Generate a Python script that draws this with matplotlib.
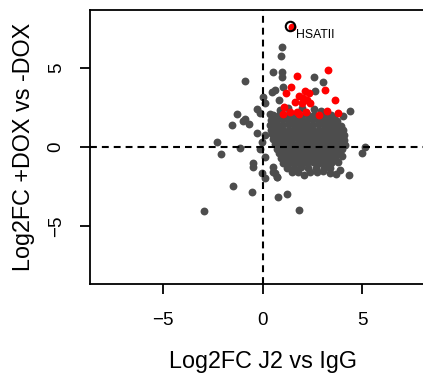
import matplotlib
matplotlib.use("Agg")
import matplotlib.pyplot as plt

plt.rcParams["font.family"] = ["Liberation Sans", "DejaVu Sans"]

GRAY = "#4d4d4d"

# scattered grey points outside the main cloud
gray_out_x = [0.96, 0.93, -0.88, 0.54, 0.96, 0.96, 2.60, 3.02, 1.01, 0.63, 0.46,
              2.65, 0.85, 0.01, 0.13, -1.30, -0.29, -0.88, -0.13, 0.38, -1.55,
              -0.96, -0.66, -0.29, -2.30, -2.09, -1.13, -0.13, -0.49, -0.46,
              -0.04, 0.54, 0.71, 0.13, -0.04, 0.13, -1.50, -0.54, -2.92, 0.13,
              0.76, 1.25, 1.85, 5.15, 4.98, 4.36, 4.40, 4.03, 0.55, 0.63, 0.75]
gray_out_y = [6.31, 5.76, 4.20, 4.73, 4.77, 4.45, 4.45, 4.13, 3.82, 3.61, 3.50,
              3.56, 2.97, 3.15, 2.77, 2.09, 2.38, 1.75, 2.13, 2.09, 1.39,
              1.66, 1.46, 0.87, 0.30, -0.44, -0.08, -0.15, -1.03, -1.28,
              -1.66, -1.56, -1.88, -0.61, 0.34, 0.76, -2.47, -2.83, -4.03, -1.98,
              -3.14, -2.97, -3.99, 0.02, -0.40, -1.77, 2.30, 1.96, -1.25, -1.66, -1.88]

# dense grey cloud, one row of the picture per line
cloud = [
    (0.90, 2.35), (1.30, 2.45), (2.00, 2.45), (2.60, 2.40), (2.95, 2.25), (3.45, 2.00),
    (0.55, 2.00), (0.85, 2.00), (1.20, 1.95), (1.55, 2.00), (1.95, 1.95), (2.30, 2.00),
    (2.60, 2.05), (3.00, 2.00), (3.30, 1.95), (3.60, 1.85),
    (0.45, 1.70), (0.75, 1.70), (1.05, 1.75), (1.35, 1.70), (1.65, 1.70), (1.95, 1.70),
    (2.25, 1.70), (2.55, 1.75), (2.85, 1.70), (3.15, 1.70), (3.45, 1.65), (3.75, 1.65),
    (0.40, 1.40), (0.70, 1.40), (1.00, 1.40), (1.30, 1.45), (1.60, 1.40), (1.90, 1.40),
    (2.20, 1.40), (2.50, 1.40), (2.80, 1.45), (3.10, 1.40), (3.40, 1.40), (3.70, 1.40),
    (3.95, 1.30),
    (0.45, 1.10), (0.75, 1.10), (1.05, 1.10), (1.35, 1.10), (1.65, 1.15), (1.95, 1.10),
    (2.25, 1.10), (2.55, 1.10), (2.85, 1.10), (3.15, 1.10), (3.45, 1.10), (3.75, 1.10),
    (4.05, 1.05),
    (0.50, 0.80), (0.80, 0.80), (1.10, 0.80), (1.40, 0.80), (1.70, 0.85), (2.00, 0.80),
    (2.30, 0.80), (2.60, 0.80), (2.90, 0.80), (3.20, 0.80), (3.50, 0.80), (3.80, 0.80),
    (4.10, 0.75),
    (0.55, 0.50), (0.85, 0.50), (1.15, 0.50), (1.45, 0.50), (1.75, 0.55), (2.05, 0.50),
    (2.35, 0.50), (2.65, 0.50), (2.95, 0.50), (3.25, 0.50), (3.55, 0.50), (3.85, 0.50),
    (4.10, 0.45),
    (0.65, 0.20), (0.95, 0.20), (1.25, 0.20), (1.55, 0.20), (1.85, 0.25), (2.15, 0.20),
    (2.45, 0.20), (2.75, 0.20), (3.05, 0.20), (3.35, 0.20), (3.65, 0.20), (3.95, 0.20),
    (4.15, 0.15),
    (0.75, -0.10), (1.05, -0.10), (1.35, -0.10), (1.65, -0.10), (1.95, -0.05), (2.25, -0.10),
    (2.55, -0.10), (2.85, -0.10), (3.15, -0.10), (3.45, -0.10), (3.75, -0.10), (4.00, -0.15),
    (0.85, -0.40), (1.15, -0.40), (1.45, -0.40), (1.75, -0.40), (2.05, -0.40), (2.35, -0.35),
    (2.65, -0.40), (2.95, -0.40), (3.25, -0.40), (3.55, -0.40), (3.85, -0.40),
    (0.95, -0.70), (1.25, -0.70), (1.55, -0.70), (1.85, -0.70), (2.15, -0.70), (2.45, -0.70),
    (2.75, -0.65), (3.05, -0.70), (3.35, -0.70), (3.65, -0.70),
    (1.05, -1.00), (1.35, -1.00), (1.65, -1.00), (1.95, -1.00), (2.25, -1.00), (2.55, -0.95),
    (2.85, -1.00), (3.15, -1.00), (3.45, -1.00),
    (1.25, -1.30), (1.60, -1.30), (1.95, -1.25), (2.30, -1.30), (2.70, -1.30), (3.10, -1.30),
    (3.40, -1.30),
    (1.50, -1.60), (1.78, -1.57), (2.10, -1.75), (2.40, -1.57), (2.75, -1.60), (3.05, -1.50),
    (3.40, -1.67), (3.68, -1.72), (3.79, -0.93), (3.90, -1.46), (4.00, -0.60),
]
cloud_x = [p[0] for p in cloud]
cloud_y = [p[1] for p in cloud]

# significant repeats, drawn in red
red_x = [3.30, 1.72, 1.42, 1.17, 2.14, 2.35, 3.14, 1.85, 2.25, 2.06, 1.63, 3.64,
         1.08, 1.97, 2.39, 1.38, 1.72, 2.19, 1.02, 3.23, 3.81, 2.85, 1.85, 1.50]
red_y = [4.89, 4.47, 3.82, 3.44, 3.56, 3.44, 3.61, 3.23, 2.97, 3.09, 2.87, 2.97,
         2.55, 2.77, 2.78, 2.23, 2.23, 2.23, 2.09, 2.30, 2.17, 2.03, 2.09, 7.60]

label_name = "HSATII"
label_x, label_y = 1.38, 7.65

fig = plt.figure(figsize=(4.23, 3.74), dpi=100)
ax = fig.add_axes([90 / 423, 90 / 374, 345 / 423, 274 / 374])

ax.scatter(gray_out_x, gray_out_y, s=32, color=GRAY, linewidths=0, zorder=2)
ax.scatter(cloud_x, cloud_y, s=32, color=GRAY, linewidths=0, zorder=2)
ax.scatter(red_x, red_y, s=32, color="red", linewidths=0, zorder=3)
ax.plot([label_x], [label_y], marker="o", ms=6.8, mfc="none", mec="black", mew=1.5,
        ls="none", zorder=4)
ax.text(1.67, 6.9, label_name, fontsize=8.8, ha="left", va="baseline", zorder=5)

ax.axvline(0, color="black", lw=1.5, ls=(0, (3.3, 2.4)), zorder=4)
ax.axhline(0, color="black", lw=1.5, ls=(0, (3.3, 2.4)), zorder=4)

ax.set_xlim(-8.67, 8.67)
ax.set_ylim(-8.67, 8.67)
ax.set_xticks([-5, 0, 5])
ax.set_yticks([-5, 0, 5])
for sp in ax.spines.values():
    sp.set_linewidth(1.3)
ax.tick_params(length=7.2, width=1.3, labelsize=13.5, pad=13)
ax.tick_params(axis="y", labelrotation=90, pad=11)
for lab in ax.get_yticklabels():
    lab.set_va("center")

ax.set_xlabel("Log2FC J2 vs IgG", fontsize=16.8)
ax.set_ylabel("Log2FC +DOX vs -DOX", fontsize=16.8)
ax.xaxis.label.set_va("center")
ax.yaxis.label.set_va("center")
ax.xaxis.set_label_coords(0.5, -0.283)
ax.yaxis.set_label_coords(-0.194, 0.5)

fig.savefig("out.png", dpi=100)
